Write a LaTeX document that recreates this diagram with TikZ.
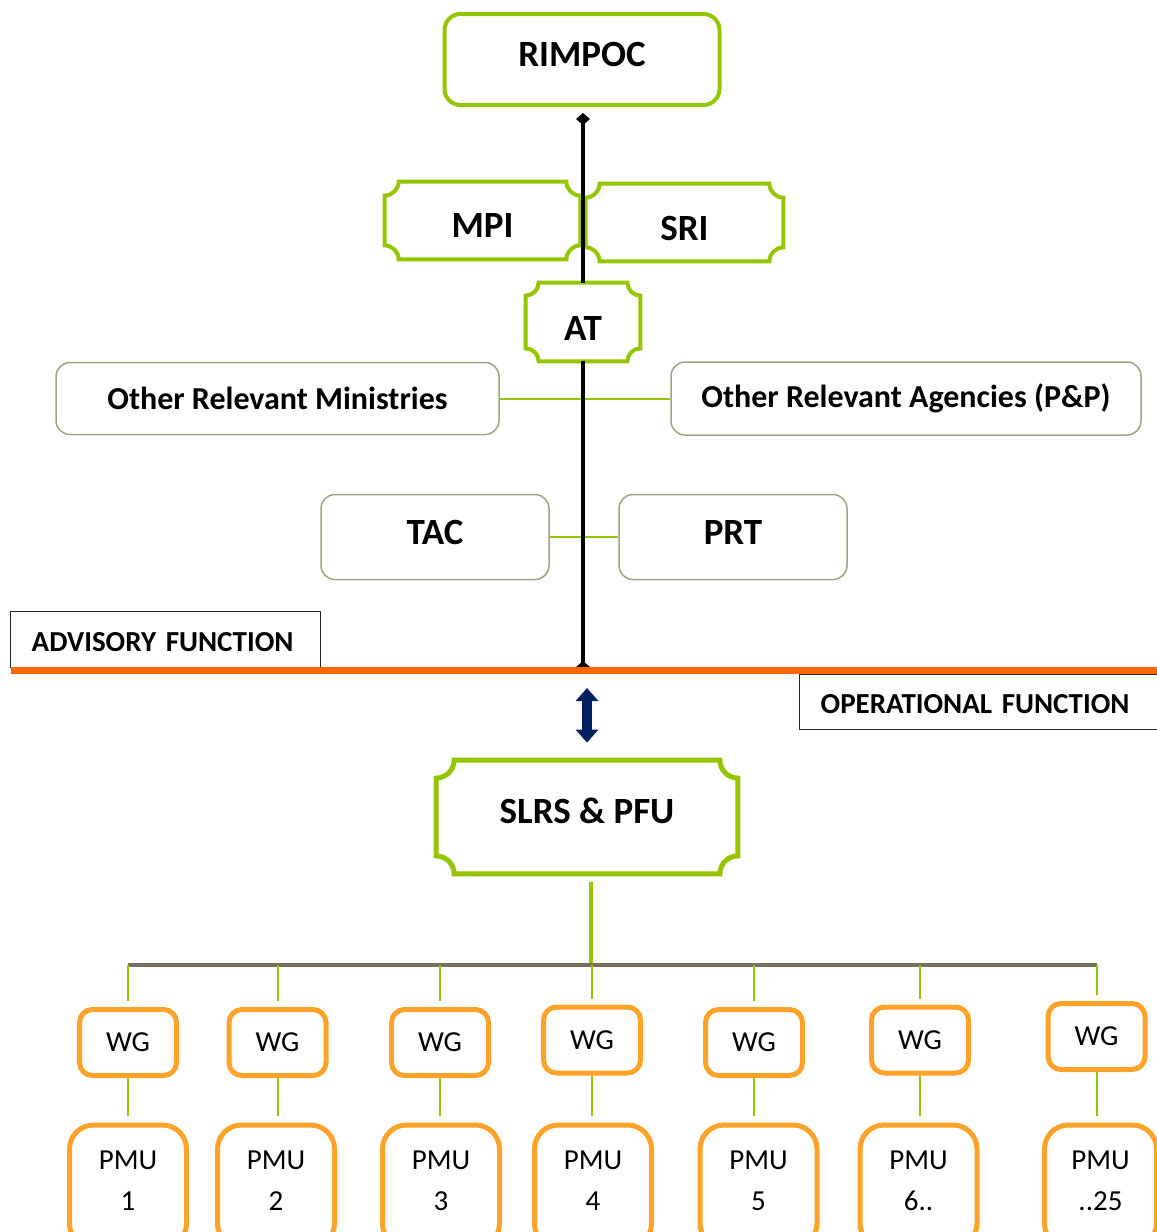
\documentclass[tikz,border=0pt]{standalone}
\usepackage{fontspec}
\setmainfont{Carlito}
\usetikzlibrary{arrows.meta}

\definecolor{leaf}{HTML}{94C600}
\definecolor{khaki}{HTML}{A3A084}
\definecolor{fire}{HTML}{FF6600}
\definecolor{amber}{HTML}{FFA229}
\definecolor{navyblue}{HTML}{002060}
\definecolor{busgray}{HTML}{77705F}

\tikzset{
  title/.style={font=\fontsize{18.5}{22}\selectfont\bfseries, inner sep=0pt, text height=12pt, text depth=0pt},
  greenbox/.style={title, draw=leaf, line width=2pt, rounded corners=8pt},
  softbox/.style={draw=khaki, line width=0.75pt, rounded corners=7pt, inner sep=0pt, font=\fontsize{16}{19}\selectfont\bfseries},
  funcbox/.style={draw=black!85, line width=0.7pt, inner xsep=10.5pt, inner ysep=0pt, anchor=north west, align=left, font=\fontsize{14.5}{17}\selectfont\bfseries},
  wgbox/.style={draw=amber, line width=2.5pt, rounded corners=6.5pt, minimum width=48.5pt, minimum height=33pt, inner sep=0pt, font=\fontsize{14.5}{17}\selectfont},
  pmubox/.style={draw=amber, line width=2.5pt, rounded corners=12pt, minimum height=61.25pt, inner sep=0pt, anchor=north, align=center, font=\fontsize{14.5}{20.75}\selectfont, text height=30.05pt, text depth=5.7pt},
  link/.style={draw=leaf, line width=1pt},
  spine/.style={draw=black, line width=2pt},
}

\newcommand{\plaque}[3]{%
  \draw[draw=leaf, line width=#3]
    ([xshift=#2]#1.north west) -- ([xshift=-#2]#1.north east)
    arc[start angle=180, end angle=270, radius=#2]
    -- ([yshift=#2]#1.south east)
    arc[start angle=90, end angle=180, radius=#2]
    -- ([xshift=#2]#1.south west)
    arc[start angle=0, end angle=90, radius=#2]
    -- ([yshift=-#2]#1.north west)
    arc[start angle=270, end angle=360, radius=#2] -- cycle;
}

\begin{document}
\begin{tikzpicture}[x=0.5pt, y=-0.5pt]
\useasboundingbox (0,0) rectangle (1157,1232);
\clip (0,0) rectangle (1157,1232);

\node[greenbox, minimum width=137.5pt, minimum height=45.5pt, text depth=5pt] (rimpoc) at (582,59.5) {RIMPOC};
\node[title, minimum width=97.5pt, minimum height=38.5pt, text height=16.5pt] (mpi) at (482.5,220.5) {MPI};
\node[title, minimum width=98.5pt, minimum height=38.5pt, text height=17.5pt] (sri) at (684.5,222.5) {SRI};
\node[title, minimum width=57pt, minimum height=39pt, text height=18.5pt] (at) at (583,322) {AT};
\plaque{mpi}{7pt}{2pt}
\plaque{sri}{7pt}{2pt}
\plaque{at}{6.5pt}{2pt}

\node[softbox, minimum width=221.5pt, minimum height=36pt] (orm) at (277.5,398.5) {Other Relevant Ministries};
\node[softbox, minimum width=235pt, minimum height=36.5pt] (ora) at (906,398.5) {Other Relevant Agencies (P\&P)};
\node[softbox, title, minimum width=114pt, minimum height=42.5pt, text depth=4.5pt] (tac) at (435,537) {TAC};
\node[softbox, title, minimum width=114pt, minimum height=42.5pt, text depth=4.5pt] (prt) at (733,537) {PRT};
\draw[link] (orm) -- (ora);
\draw[link] (tac) -- (prt);

\coordinate (split) at (583,670.5);
\draw[spine, {Diamond[length=6pt,width=7pt]}-, shorten <=3pt] (rimpoc.south -| at.north) -- (at.north);
\draw[spine, -{Diamond[length=6pt,width=7pt]}] (at.south) -- ([yshift=-1.25pt]split);

\node[funcbox, minimum height=28pt, text width=134pt, text height=11.5pt] (advisory) at (10,611) {ADVISORY FUNCTION};
\draw[fire, line width=3.5pt] (11,670.5) -- (1157,670.5);
\node[funcbox, minimum height=27.5pt, text width=162pt, text height=11.5pt] (operational) at (799,674) {OPERATIONAL FUNCTION};

\node[title, minimum width=150.5pt, minimum height=56.5pt, text depth=6pt] (slrs) at (587,817) {SLRS \& PFU};
\plaque{slrs}{9pt}{2.5pt}
\draw[navyblue, line width=5pt, {Triangle[width=11pt,length=6.5pt]}-{Triangle[width=11pt,length=6.5pt]}, shorten <=8.75pt, shorten >=8.75pt] (split -| slrs.north) -- (slrs.north);

\foreach \i/\x/\y in {1/128/1042.5, 2/277.5/1042.5, 3/440/1042.5, 4/592/1040, 5/754/1042.5, 6/920/1040, 7/1096.5/1036.5}
  \node[wgbox] (wg\i) at (\x,\y) {WG};
\foreach \i/\x/\w/\n in {1/128/58.5/1, 2/276/58.5/2, 3/441/58.5/3, 4/593/58.5/4, 5/758.5/58.5/5, 6/918.5/58.5/6.., 7/1100.5/56/..25}
  \node[pmubox, minimum width=\w pt] (pmu\i) at (\x,1122.5) {PMU\\\n};

\coordinate (bus) at (591,965);
\draw[link, line width=2pt, shorten <=4.25pt] ([xshift=2pt]slrs.south) -- (bus);
\draw[busgray, line width=2pt] (wg1.north |- bus) -- (wg7.north |- bus);
\foreach \i in {1,...,7} {
  \draw[link, shorten >=3pt] (wg\i.north |- bus) -- (wg\i.north);
  \draw[link, shorten >=3.5pt] (wg\i.south) -- (wg\i.south |- pmu\i.north);
}
\end{tikzpicture}
\end{document}
